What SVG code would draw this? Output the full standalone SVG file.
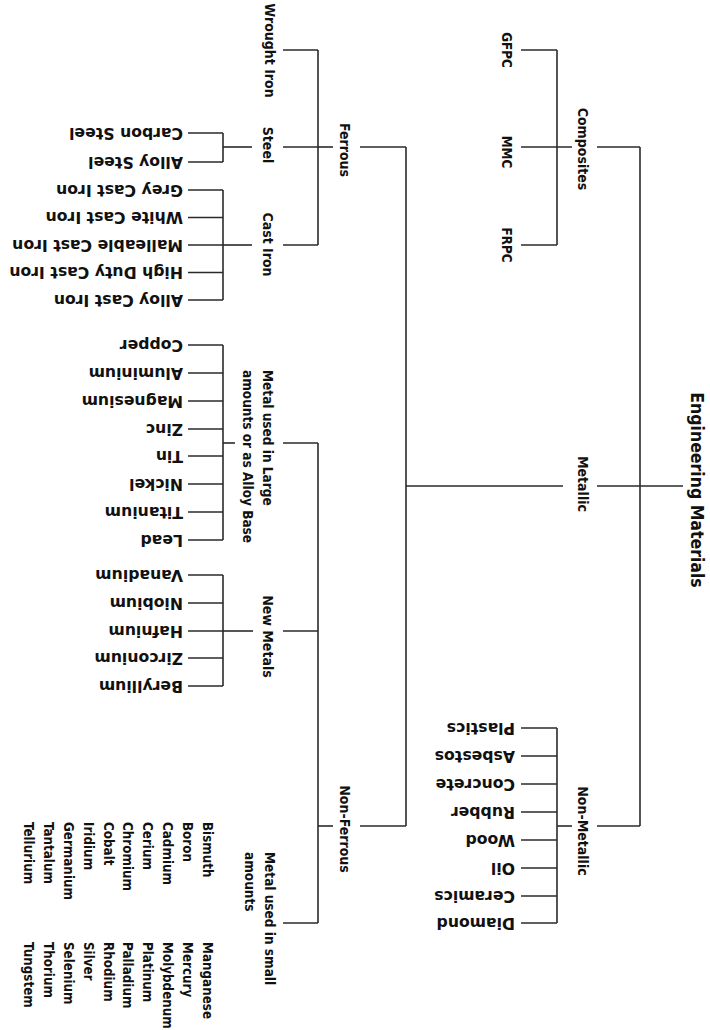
<svg xmlns="http://www.w3.org/2000/svg" width="710" height="1030" viewBox="0 0 710 1030">
<style>
.bg{fill:#fff}
.c line{stroke:#2a2a2a;stroke-width:1.6;fill:none}
.lb{font-family:"DejaVu Sans Condensed","DejaVu Sans",sans-serif;font-stretch:condensed;font-weight:bold;font-size:14px;fill:#111}
.lb2{font-family:"DejaVu Sans Condensed","DejaVu Sans",sans-serif;font-stretch:condensed;font-weight:bold;font-size:13.5px;fill:#111}
.sm{font-family:"DejaVu Sans Condensed","DejaVu Sans",sans-serif;font-stretch:condensed;font-weight:bold;font-size:13.3px;fill:#111}
.lf{font-family:"DejaVu Sans",Verdana,sans-serif;font-weight:bold;font-size:15.7px;fill:#111}
.title{font-family:"DejaVu Sans Condensed","DejaVu Sans",sans-serif;font-stretch:condensed;font-weight:bold;font-size:17.5px;fill:#111}
</style>
<rect class="bg" x="0" y="0" width="710" height="1030"/>
<g id="connectors" class="c">
<line x1="597" y1="486" x2="683" y2="486"/>
<line x1="640" y1="147" x2="640" y2="826"/>
<line x1="597" y1="147" x2="640" y2="147"/>
<line x1="597" y1="826" x2="640" y2="826"/>
<line x1="557" y1="50" x2="557" y2="245"/>
<line x1="521" y1="50" x2="557" y2="50"/>
<line x1="521" y1="147" x2="572" y2="147"/>
<line x1="521" y1="245" x2="557" y2="245"/>
<line x1="557" y1="826" x2="572" y2="826"/>
<line x1="557" y1="728" x2="557" y2="923"/>
<line x1="521" y1="728" x2="557" y2="728"/>
<line x1="521" y1="756" x2="557" y2="756"/>
<line x1="521" y1="784" x2="557" y2="784"/>
<line x1="521" y1="812" x2="557" y2="812"/>
<line x1="521" y1="840" x2="557" y2="840"/>
<line x1="521" y1="868" x2="557" y2="868"/>
<line x1="521" y1="896" x2="557" y2="896"/>
<line x1="521" y1="923" x2="557" y2="923"/>
<line x1="406" y1="486" x2="563" y2="486"/>
<line x1="406" y1="147" x2="406" y2="826"/>
<line x1="360" y1="147" x2="406" y2="147"/>
<line x1="360" y1="826" x2="406" y2="826"/>
<line x1="318" y1="147" x2="333" y2="147"/>
<line x1="318" y1="50" x2="318" y2="245"/>
<line x1="283" y1="50" x2="318" y2="50"/>
<line x1="283" y1="147" x2="318" y2="147"/>
<line x1="283" y1="245" x2="318" y2="245"/>
<line x1="223" y1="147" x2="252" y2="147"/>
<line x1="223" y1="133" x2="223" y2="162"/>
<line x1="188" y1="133" x2="223" y2="133"/>
<line x1="188" y1="162" x2="223" y2="162"/>
<line x1="223" y1="245" x2="252" y2="245"/>
<line x1="223" y1="190" x2="223" y2="300"/>
<line x1="188" y1="190" x2="223" y2="190"/>
<line x1="188" y1="217.5" x2="223" y2="217.5"/>
<line x1="188" y1="245" x2="223" y2="245"/>
<line x1="188" y1="272.5" x2="223" y2="272.5"/>
<line x1="188" y1="300" x2="223" y2="300"/>
<line x1="318" y1="826" x2="333" y2="826"/>
<line x1="318" y1="443" x2="318" y2="923"/>
<line x1="283" y1="443" x2="318" y2="443"/>
<line x1="283" y1="631" x2="318" y2="631"/>
<line x1="283" y1="923" x2="318" y2="923"/>
<line x1="223" y1="443" x2="235" y2="443"/>
<line x1="223" y1="345" x2="223" y2="540"/>
<line x1="188" y1="345" x2="223" y2="345"/>
<line x1="188" y1="373" x2="223" y2="373"/>
<line x1="188" y1="401" x2="223" y2="401"/>
<line x1="188" y1="429" x2="223" y2="429"/>
<line x1="188" y1="456" x2="223" y2="456"/>
<line x1="188" y1="484" x2="223" y2="484"/>
<line x1="188" y1="512" x2="223" y2="512"/>
<line x1="188" y1="540" x2="223" y2="540"/>
<line x1="223" y1="631" x2="253" y2="631"/>
<line x1="223" y1="575" x2="223" y2="686"/>
<line x1="188" y1="575" x2="223" y2="575"/>
<line x1="188" y1="603" x2="223" y2="603"/>
<line x1="188" y1="631" x2="223" y2="631"/>
<line x1="188" y1="658" x2="223" y2="658"/>
<line x1="188" y1="686" x2="223" y2="686"/>
</g>

<g id="engineering-materials"><text class="title" transform="translate(697,490) rotate(90)" x="0" y="6.5" text-anchor="middle">Engineering Materials</text></g>
<g id="composites"><text class="lb" transform="translate(583,149) rotate(90)" x="0" y="5" text-anchor="middle">Composites</text></g>
<g id="metallic"><text class="lb" transform="translate(583,484) rotate(90)" x="0" y="5" text-anchor="middle">Metallic</text></g>
<g id="non-metallic"><text class="lb" transform="translate(583,831) rotate(90)" x="0" y="5" text-anchor="middle">Non-Metallic</text></g>
<g id="gfpc"><text class="sm" transform="translate(507,50) rotate(90)" x="0" y="5" text-anchor="middle">GFPC</text></g>
<g id="mmc"><text class="sm" transform="translate(507,152) rotate(90)" x="0" y="5" text-anchor="middle">MMC</text></g>
<g id="frpc"><text class="sm" transform="translate(507,245) rotate(90)" x="0" y="5" text-anchor="middle">FRPC</text></g>

<g id="plastics"><text class="lf" transform="translate(515,728) rotate(180)" x="0" y="5.5">Plastics</text></g>
<g id="asbestos"><text class="lf" transform="translate(515,756) rotate(180)" x="0" y="5.5">Asbestos</text></g>
<g id="concrete"><text class="lf" transform="translate(515,784) rotate(180)" x="0" y="5.5">Concrete</text></g>
<g id="rubber"><text class="lf" transform="translate(515,812) rotate(180)" x="0" y="5.5">Rubber</text></g>
<g id="wood"><text class="lf" transform="translate(515,840) rotate(180)" x="0" y="5.5">Wood</text></g>
<g id="oil"><text class="lf" transform="translate(515,868) rotate(180)" x="0" y="5.5">Oil</text></g>
<g id="ceramics"><text class="lf" transform="translate(515,896) rotate(180)" x="0" y="5.5">Ceramics</text></g>
<g id="diamond"><text class="lf" transform="translate(515,923) rotate(180)" x="0" y="5.5">Diamond</text></g>

<g id="ferrous"><text class="lb" transform="translate(345,150) rotate(90)" x="0" y="5" text-anchor="middle">Ferrous</text></g>
<g id="non-ferrous"><text class="lb" transform="translate(345,829) rotate(90)" x="0" y="5" text-anchor="middle">Non-Ferrous</text></g>
<g id="wrought-iron"><text class="lb" transform="translate(270,50.5) rotate(90)" x="0" y="5" text-anchor="middle">Wrought Iron</text></g>
<g id="steel"><text class="lb" transform="translate(268,145) rotate(90)" x="0" y="5" text-anchor="middle">Steel</text></g>
<g id="cast-iron"><text class="lb" transform="translate(268,244.5) rotate(90)" x="0" y="5" text-anchor="middle">Cast Iron</text></g>

<g id="carbon-steel"><text class="lf" transform="translate(183,133) rotate(180)" x="0" y="5.5">Carbon Steel</text></g>
<g id="alloy-steel"><text class="lf" transform="translate(183,162) rotate(180)" x="0" y="5.5">Alloy Steel</text></g>
<g id="grey-cast-iron"><text class="lf" transform="translate(183,190) rotate(180)" x="0" y="5.5">Grey Cast Iron</text></g>
<g id="white-cast-iron"><text class="lf" transform="translate(183,217.5) rotate(180)" x="0" y="5.5">White Cast Iron</text></g>
<g id="malleable-cast-iron"><text class="lf" transform="translate(183,245) rotate(180)" x="0" y="5.5">Malleable Cast Iron</text></g>
<g id="high-duty-cast-iron"><text class="lf" transform="translate(183,272.5) rotate(180)" x="0" y="5.5">High Duty Cast Iron</text></g>
<g id="alloy-cast-iron"><text class="lf" transform="translate(183,300) rotate(180)" x="0" y="5.5">Alloy Cast Iron</text></g>

<g id="metal-large"><text class="lb2" transform="translate(268,370) rotate(90)"><tspan x="0" y="5">Metal used in Large</tspan><tspan x="0" y="25">amounts or as Alloy Base</tspan></text></g>
<g id="copper"><text class="lf" transform="translate(183,345) rotate(180)" x="0" y="5.5">Copper</text></g>
<g id="aluminium"><text class="lf" transform="translate(183,373) rotate(180)" x="0" y="5.5">Aluminium</text></g>
<g id="magnesium"><text class="lf" transform="translate(183,401) rotate(180)" x="0" y="5.5">Magnesium</text></g>
<g id="zinc"><text class="lf" transform="translate(183,429) rotate(180)" x="0" y="5.5">Zinc</text></g>
<g id="tin"><text class="lf" transform="translate(183,456) rotate(180)" x="0" y="5.5">Tin</text></g>
<g id="nickel"><text class="lf" transform="translate(183,484) rotate(180)" x="0" y="5.5">Nickel</text></g>
<g id="titanium"><text class="lf" transform="translate(183,512) rotate(180)" x="0" y="5.5">Titanium</text></g>
<g id="lead"><text class="lf" transform="translate(183,540) rotate(180)" x="0" y="5.5">Lead</text></g>

<g id="new-metals"><text class="lb" transform="translate(268,636.5) rotate(90)" x="0" y="5" text-anchor="middle">New Metals</text></g>
<g id="vanadium"><text class="lf" transform="translate(183,575) rotate(180)" x="0" y="5.5">Vanadium</text></g>
<g id="niobium"><text class="lf" transform="translate(183,603) rotate(180)" x="0" y="5.5">Niobium</text></g>
<g id="hafnium"><text class="lf" transform="translate(183,631) rotate(180)" x="0" y="5.5">Hafnium</text></g>
<g id="zirconium"><text class="lf" transform="translate(183,658) rotate(180)" x="0" y="5.5">Zirconium</text></g>
<g id="beryllium"><text class="lf" transform="translate(183,686) rotate(180)" x="0" y="5.5">Beryllium</text></g>

<g id="metal-small"><text class="lb2" transform="translate(270,852) rotate(90)"><tspan x="0" y="5">Metal used in small</tspan><tspan x="0" y="25">amounts</tspan></text></g>
<g id="small-list-1"><text class="sm" transform="translate(208,822) rotate(90)"><tspan x="0" y="5">Bismuth</tspan><tspan x="0" y="24.9">Boron</tspan><tspan x="0" y="44.8">Cadmium</tspan><tspan x="0" y="64.7">Cerium</tspan><tspan x="0" y="84.6">Chromium</tspan><tspan x="0" y="104.5">Cobalt</tspan><tspan x="0" y="124.4">Iridium</tspan><tspan x="0" y="144.3">Germanium</tspan><tspan x="0" y="164.2">Tantalum</tspan><tspan x="0" y="184.1">Tellurium</tspan></text></g>
<g id="small-list-2"><text class="sm" transform="translate(208,942) rotate(90)"><tspan x="0" y="5">Manganese</tspan><tspan x="0" y="24.9">Mercury</tspan><tspan x="0" y="44.8">Molybdenum</tspan><tspan x="0" y="64.7">Platinum</tspan><tspan x="0" y="84.6">Palladium</tspan><tspan x="0" y="104.5">Rhodium</tspan><tspan x="0" y="124.4">Silver</tspan><tspan x="0" y="144.3">Selenium</tspan><tspan x="0" y="164.2">Thorium</tspan><tspan x="0" y="184.1">Tungstem</tspan></text></g>
</svg>
